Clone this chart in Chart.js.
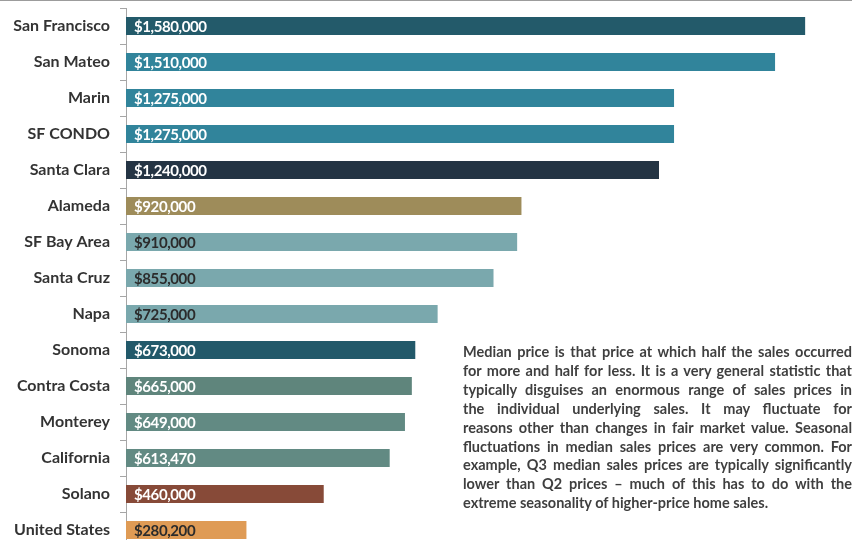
<!DOCTYPE html>
<html>
<head>
<meta charset="utf-8">
<script src="https://cdn.jsdelivr.net/npm/chart.js@4/dist/chart.umd.min.js"></script>
<style>
  html, body { margin: 0; padding: 0; background: #fff; overflow: hidden; }
  #wrap { position: relative; width: 852px; height: 540px; overflow: hidden; border-top: 1px solid #9c9c9c; box-sizing: border-box; }
  #chart { position: absolute; left: 0; top: -1px; }
  #note {
    position: absolute; left: 463px; top: 342px; width: 389px;
    font: bold 14.5px Lato, sans-serif; color: #3f3f3f; line-height: 18.9px;
  }
  #note div { text-align: justify; text-align-last: justify; white-space: nowrap; }
  #note div:last-child { text-align-last: left; }
</style>
</head>
<body>
<div id="wrap">
  <canvas id="chart" width="852" height="560"></canvas>
  <div id="note">
    <div>Median price is that price at which half the sales occurred</div>
    <div>for more and half for less. It is a very general statistic that</div>
    <div>typically disguises an enormous range of sales prices in</div>
    <div>the individual underlying sales. It may fluctuate for</div>
    <div>reasons other than changes in fair market value. Seasonal</div>
    <div>fluctuations in median sales prices are very common. For</div>
    <div>example, Q3 median sales prices are typically significantly</div>
    <div>lower than Q2 prices – much of this has to do with the</div>
    <div>extreme seasonality of higher-price home sales.</div>
  </div>
</div>
<script>
const regions = [
  'San Francisco', 'San Mateo', 'Marin', 'SF CONDO', 'Santa Clara', 'Alameda', 'SF Bay Area',
  'Santa Cruz', 'Napa', 'Sonoma', 'Contra Costa', 'Monterey', 'California', 'Solano', 'United States'
];
const medianPrices = [
  1580000, 1510000, 1275000, 1275000, 1240000, 920000, 910000,
  855000, 725000, 673000, 665000, 649000, 613470, 460000, 280200
];
const barColors = [
  '#235a6a', '#31849b', '#31849b', '#31849b', '#243444', '#9e8c5a', '#7aa8ad',
  '#7aa8ad', '#7aa8ad', '#22596a', '#5f857c', '#628a83', '#628a83', '#874a38', '#df9b55'
];
const labelColors = [
  '#fff', '#fff', '#fff', '#fff', '#fff', '#fff', '#2b2b2b',
  '#2b2b2b', '#2b2b2b', '#fff', '#fff', '#fff', '#fff', '#fff', '#2b2b2b'
];

const money = v => '$' + v.toLocaleString('en-US');

// value text inside each bar, left aligned after the base
const barLabels = {
  id: 'barLabels',
  afterDatasetsDraw(chart) {
    const { ctx } = chart;
    const meta = chart.getDatasetMeta(0);
    ctx.save();
    ctx.font = 'bold 15px Lato, sans-serif';
    ctx.letterSpacing = '-0.4px';
    ctx.textAlign = 'left';
    ctx.textBaseline = 'middle';
    meta.data.forEach((bar, i) => {
      ctx.fillStyle = labelColors[i];
      ctx.fillText(money(medianPrices[i]), bar.base + 8, bar.y + 1);
    });
    ctx.restore();
  }
};

new Chart(document.getElementById('chart'), {
  type: 'bar',
  data: {
    labels: regions,
    datasets: [{
      data: medianPrices,
      backgroundColor: barColors,
      barPercentage: 0.5,
      categoryPercentage: 1,
    }],
  },
  options: {
    indexAxis: 'y',
    responsive: false,
    animation: false,
    layout: { padding: { top: 8, bottom: 12, left: 0, right: 0 } },
    plugins: {
      legend: { display: false },
      tooltip: { enabled: false },
    },
    scales: {
      x: { display: false, min: 0, max: 1689000 },
      y: {
        afterFit: scale => {
          scale.width = 126;
          scale.paddingTop = 0;
          scale.paddingBottom = 0;
        },
        border: { display: true, color: '#a6a6a6', width: 1 },
        grid: { drawOnChartArea: false, offset: true, tickLength: 6, color: '#a6a6a6' },
        ticks: {
          padding: 10,
          color: '#333',
          font: { family: 'Lato, sans-serif', size: 16, weight: 'bold' },
        },
      },
    },
  },
  plugins: [barLabels],
});
</script>
</body>
</html>
